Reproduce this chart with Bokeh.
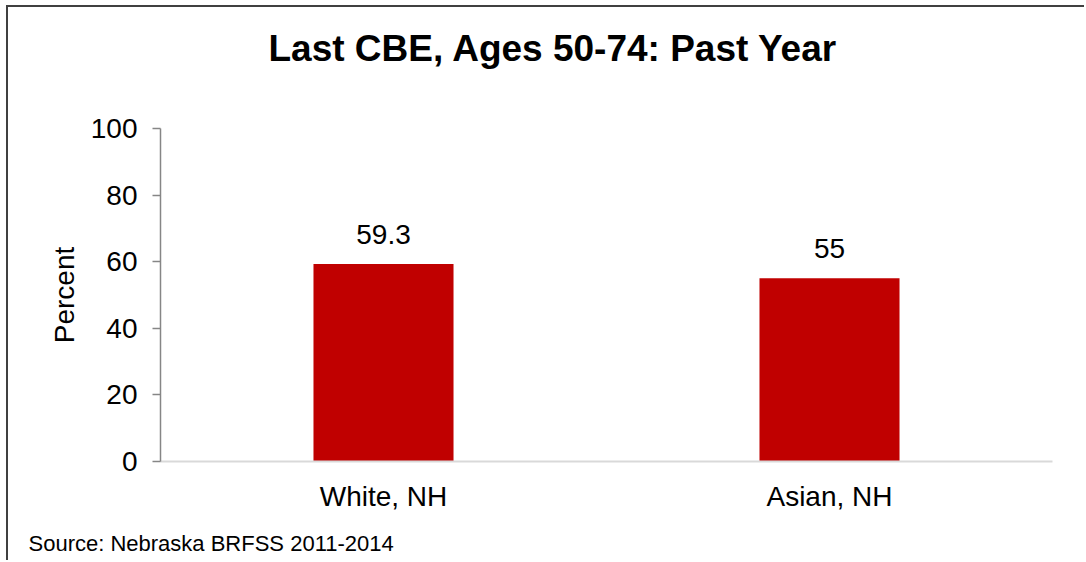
from bokeh.plotting import figure
from bokeh.models import ColumnDataSource, FixedTicker, LabelSet, Title
from bokeh.core.properties import value
from bokeh.embed import file_html
from bokeh.resources import INLINE

# ---- data ----
categories = ["White, NH", "Asian, NH"]
values = [59.3, 55]
value_labels = ["59.3", "55"]
y_ticks = [0, 20, 40, 60, 80, 100]
title_text = "Last CBE, Ages 50-74: Past Year"
source_text = "Source: Nebraska BRFSS 2011-2014"
y_label = "Percent"

FONT = "Liberation Sans"
BAR = "#C00000"

src = ColumnDataSource(dict(cat=categories, val=values, lab=value_labels))

p = figure(x_range=categories, y_range=(0, 100), width=1078, height=555,
           output_backend="svg", toolbar_location=None,
           min_border_left=152, min_border_right=34,
           min_border_top=121, min_border_bottom=101)
p.styles = {"border-left": "2px solid #404040", "border-top": "2px solid #404040",
            "margin-left": "6px", "margin-top": "5px"}
p.outline_line_color = None
p.background_fill_color = "white"
p.border_fill_color = "white"
p.xgrid.grid_line_color = None
p.ygrid.grid_line_color = None

p.vbar(x="cat", top="val", width=0.314, source=src, color=BAR, line_color=None)

labels = LabelSet(x="cat", y="val", text="lab", source=src, text_align="center",
                  text_baseline="alphabetic", y_offset=20,
                  text_font=value(FONT), text_font_size="28px", text_color="black")
p.add_layout(labels)

# axes
p.yaxis.ticker = FixedTicker(ticks=y_ticks)
p.yaxis.minor_tick_line_color = None
p.yaxis.axis_line_color = "#868686"
p.yaxis.axis_line_width = 1.5
p.yaxis.major_tick_line_color = "#868686"
p.yaxis.major_tick_line_width = 1.5
p.yaxis.major_tick_out = 8
p.yaxis.major_tick_in = 0
p.yaxis.major_label_standoff = 15
p.yaxis.major_label_text_font = FONT
p.yaxis.major_label_text_font_size = "28px"
p.yaxis.major_label_text_color = "black"
p.yaxis.axis_label = y_label
p.yaxis.axis_label_text_font = FONT
p.yaxis.axis_label_text_font_size = "28px"
p.yaxis.axis_label_text_font_style = "normal"
p.yaxis.axis_label_text_color = "black"
p.yaxis.axis_label_standoff = 8

p.xaxis.axis_line_color = "#d9d9d9"
p.xaxis.axis_line_width = 2
p.xaxis.major_tick_line_color = None
p.xaxis.minor_tick_line_color = None
p.xaxis.major_label_standoff = 13
p.xaxis.major_label_text_font = FONT
p.xaxis.major_label_text_font_size = "28px"
p.xaxis.major_label_text_color = "black"

# title: a blank spacer line next to the frame, then the title above it
p.title = None
p.add_layout(Title(text=" ", text_font=FONT, text_font_size="52px", standoff=0), "above")
p.add_layout(Title(text=title_text, align="left", offset=108, standoff=0,
                   text_font=FONT, text_font_size="37px", text_font_style="bold",
                   text_color="black"), "above")

# source note (small blank spacer between axis and note)
p.add_layout(Title(text=" ", text_font=FONT, text_font_size="4px", standoff=0), "below")
p.add_layout(Title(text=source_text, align="left", offset=-132, standoff=14,
                   text_font=FONT, text_font_size="22px", text_font_style="normal",
                   text_color="black"), "below")

open("out.html", "w").write(file_html(p, INLINE))
